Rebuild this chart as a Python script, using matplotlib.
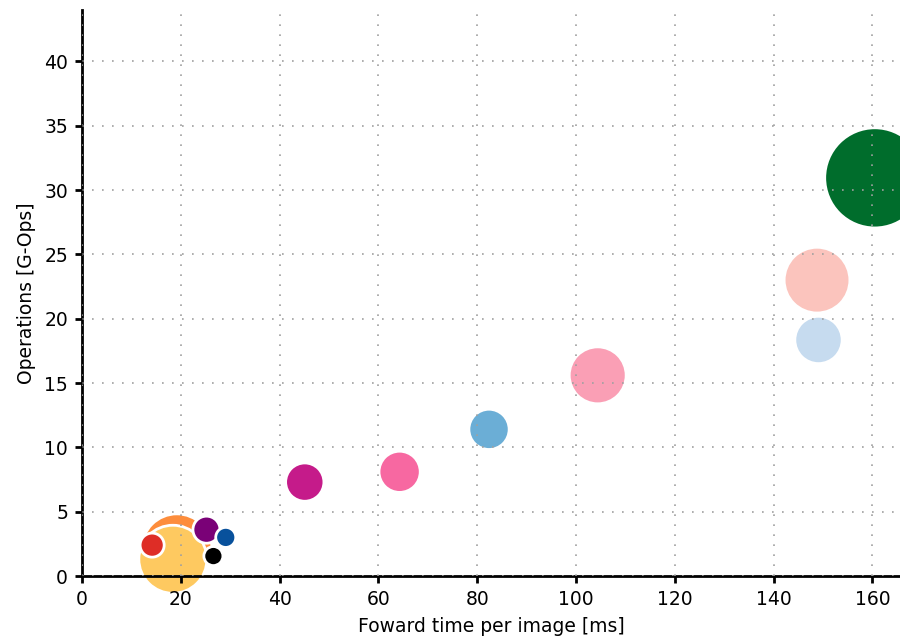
import matplotlib
matplotlib.use('agg')
import matplotlib.pyplot as plt

# forward time [ms], operations [G-Ops], parameters [M] per network
fwd_ms = [160.5, 148.8, 149.1, 104.4, 82.4, 64.3, 45.1, 19.2, 18.4, 14.2, 25.2, 29.1, 26.6]
gops = [30.95, 23.0, 18.35, 15.6, 11.4, 8.1, 7.3, 2.1, 1.3, 2.4, 3.6, 3.0, 1.55]
params_m = [130, 56, 29, 42, 21, 22, 19, 64, 60, 7.5, 9.5, 5.2, 4.7]
colors = ['#006d2c', '#fbc4bd', '#c6dbef', '#fa9fb5', '#6baed6', '#f768a1', '#c51b8a',
          '#fd8d3c', '#fec960', '#de2d26', '#7a0177', '#08519c', '#000000']

fig = plt.figure(figsize=(9, 6.44), dpi=100)
ax = fig.add_axes([82 / 900, 68 / 644, 818 / 900, 566 / 644])

ax.scatter(fwd_ms, gops, s=[p * 40 for p in params_m], c=colors,
           edgecolors='white', linewidths=2, clip_on=False, zorder=1)

ax.set_xlim(0, 165.6)
ax.set_ylim(0, 44)
ax.set_xticks(range(0, 161, 20))
ax.set_yticks(range(0, 41, 5))

ax.set_axisbelow(False)
ax.grid(True, linestyle=(0, (1, 5)), color='#a0a0a0', linewidth=1.2)

for side in ['top', 'right']:
    ax.spines[side].set_visible(False)
for side in ['left', 'bottom']:
    ax.spines[side].set_linewidth(2)
    ax.spines[side].set_color('black')

ax.tick_params(direction='out', length=5, width=2, labelsize=13.5, colors='black', pad=5)
ax.set_xlabel('Foward time per image [ms]', fontsize=13.5, labelpad=6)
ax.set_ylabel('Operations [G-Ops]', fontsize=13.5, labelpad=6)

fig.savefig('out.png', dpi=100)
